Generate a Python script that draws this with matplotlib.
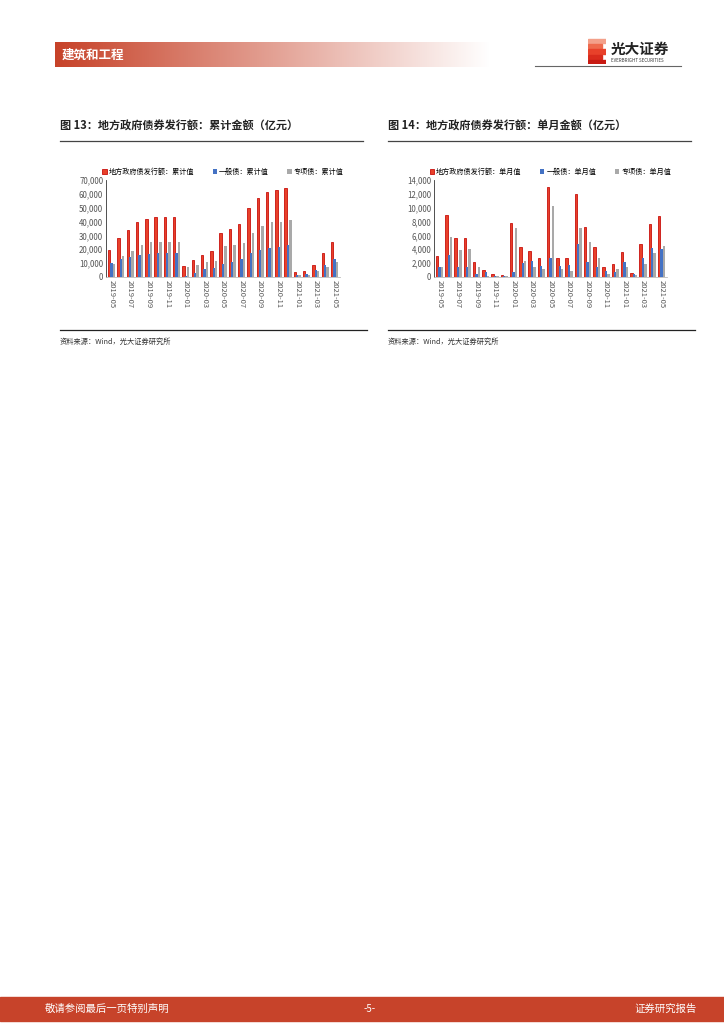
import matplotlib
import numpy as np

matplotlib.use("Agg")
from matplotlib import pyplot as plt
from matplotlib.patches import Rectangle

plt.rcParams["font.family"] = ["Noto Sans CJK SC", "DejaVu Sans"]

months = [
    "2019-05", "2019-06", "2019-07", "2019-08", "2019-09", "2019-10", "2019-11",
    "2019-12", "2020-01", "2020-02", "2020-03", "2020-04", "2020-05", "2020-06",
    "2020-07", "2020-08", "2020-09", "2020-10", "2020-11", "2020-12", "2021-01",
    "2021-02", "2021-03", "2021-04", "2021-05",
]

cum_total = [19500, 28500, 34000, 40000, 42000, 43000, 43000, 43600, 7900, 12300,
             16000, 19000, 32000, 35000, 38000, 49500, 56800, 61000, 62500, 64400,
             3700, 4500, 9000, 17000, 25600]
cum_general = [9800, 13000, 14500, 16000, 16500, 17000, 17300, 17500, 900, 3000,
               5500, 6800, 9500, 11000, 13000, 17500, 19700, 21000, 22000, 23000,
               1700, 2500, 5200, 9000, 13300]
cum_special = [9500, 15500, 19000, 23300, 25000, 25000, 25000, 25600, 7000, 9000,
               10900, 11800, 22500, 23300, 24500, 31500, 37000, 39600, 40000, 41000,
               1800, 1800, 4000, 7000, 11000]

mon_total = [3000, 9000, 5600, 5700, 2200, 1000, 400, 300, 7800, 4400, 3800, 2800,
             13000, 2800, 2700, 12000, 7200, 4400, 1400, 1900, 3600, 600, 4700,
             7700, 8800]
mon_general = [1500, 3200, 1500, 1500, 500, 700, 200, 100, 700, 2000, 2300, 1600,
               2700, 1600, 1700, 4800, 2200, 1500, 900, 700, 2100, 400, 2700, 4200,
               4100]
mon_special = [1500, 5800, 3900, 4000, 1500, 200, 200, 100, 7100, 2300, 1500, 1100,
               10300, 1100, 900, 7100, 5000, 2700, 500, 1100, 1400, 300, 1900, 3400,
               4500]

legend13 = ["地方政府债发行额：累计值", "一般债：累计值", "专项债：累计值"]
legend14 = ["地方政府债发行额：单月值", "一般债：单月值", "专项债：单月值"]

RED = "#e8412a"
RED_EDGE = "#c8100c"
BLUE = "#4472c4"
GRAY = "#a9a9a9"
BRAND = "#c7432a"

W, H = 724, 1024
fig = plt.figure(figsize=(W / 100, H / 100), dpi=100)


def rect(x0, y0, x1, y1):
    return [x0 / W, 1 - y1 / H, (x1 - x0) / W, (y1 - y0) / H]


def ftext(x, y, s, **kw):
    fig.text(x / W, 1 - y / H, s, **kw)


# header gradient band
hax = fig.add_axes(rect(55, 42, 490, 67))
grad = np.linspace(0, 1, 256)[None, :]
c0 = np.array([0.78, 0.26, 0.16])
img = c0[None, None, :] * (1 - grad[..., None]) + np.ones(3) * grad[..., None]
img = img * np.ones((2, 1, 1))
hax.imshow(img, aspect="auto", extent=[0, 1, 0, 1])
hax.set_axis_off()
ftext(62, 55, "建筑和工程", color="white", fontsize=9, va="center", weight="bold")

# logo
lax = fig.add_axes(rect(588, 38, 606, 64))
lax.set_xlim(0, 1)
lax.set_ylim(0, 1)
lax.set_axis_off()
stripes = ["#f3a08a", "#ee6a4d", "#e8412a", "#d92b1c", "#c81a12"]
for i, c in enumerate(stripes):
    lax.add_patch(Rectangle((0, 1 - (i + 1) * 0.2), 1 if i % 2 == 0 else 0.8, 0.16,
                            color=c))
ftext(611, 49, "光大证券", fontsize=10.5, weight="bold", va="center", color="#222222")
ftext(611, 60, "EVERBRIGHT SECURITIES", fontsize=3.2, va="center", color="#333333")
fig.add_artist(plt.Line2D([535 / W, 681 / W], [1 - 66 / H, 1 - 66 / H],
                          color="#666666", lw=0.8))


def draw_chart(left, right, title, labels, series, ymax, ystep):
    tx = left - 46
    ftext(tx, 126, title, fontsize=8, weight="bold", va="center", color="#222222")
    fig.add_artist(plt.Line2D([tx / W, (tx + 303) / W], [1 - 141 / H, 1 - 141 / H],
                              color="#444444", lw=0.9))
    fig.add_artist(plt.Line2D([tx / W, (tx + 307) / W], [1 - 330 / H, 1 - 330 / H],
                              color="#222222", lw=0.9))
    ftext(tx, 342, "资料来源：Wind，光大证券研究所", fontsize=5.2, va="center",
          color="#333333")

    ax = fig.add_axes(rect(left, 180, right, 277))
    x = np.arange(len(months))
    w = 0.26
    ax.bar(x - w, series[0], w, color=RED, edgecolor=RED_EDGE, linewidth=0.6,
           label=labels[0])
    ax.bar(x, series[1], w, color=BLUE, label=labels[1])
    ax.bar(x + w, series[2], w, color=GRAY, label=labels[2])
    ax.set_xlim(-0.6, len(months) - 0.4)
    ax.set_ylim(0, ymax)
    ax.set_yticks(np.arange(0, ymax + 1, ystep))
    ax.set_yticklabels([f"{v:,}" for v in np.arange(0, ymax + 1, ystep)],
                       fontsize=5.7, color="#555555")
    ax.set_xticks(x[::2])
    ax.set_xticklabels(months[::2], rotation=270, fontsize=5.5, color="#555555")
    ax.tick_params(length=0, pad=2)
    for s in ["top", "right"]:
        ax.spines[s].set_visible(False)
    ax.spines["left"].set_color("#333333")
    ax.spines["left"].set_linewidth(0.6)
    ax.spines["bottom"].set_color("#bbbbbb")
    ax.spines["bottom"].set_linewidth(0.6)
    ax.legend(loc="lower center", bbox_to_anchor=(0.5, 1.0), ncol=3, frameon=False,
              fontsize=5.1, handlelength=0.6, handleheight=0.6, handletextpad=0.3,
              columnspacing=2.6, borderaxespad=0.2)
    return ax


draw_chart(106, 340, "图 13：地方政府债券发行额：累计金额（亿元）", legend13,
           [cum_total, cum_general, cum_special], 70000, 10000)
draw_chart(434, 667, "图 14：地方政府债券发行额：单月金额（亿元）", legend14,
           [mon_total, mon_general, mon_special], 14000, 2000)

# footer
fig.add_artist(Rectangle((0, 1 - 1021 / H), 1, 24 / H, color=BRAND,
                         transform=fig.transFigure))
ftext(45, 1009, "敬请参阅最后一页特别声明", fontsize=7.5, color="white", va="center")
ftext(370, 1009, "-5-", fontsize=7, color="white", va="center", ha="center")
ftext(697, 1009, "证券研究报告", fontsize=7.5, color="white", va="center", ha="right")

fig.savefig("out.png", dpi=100)
